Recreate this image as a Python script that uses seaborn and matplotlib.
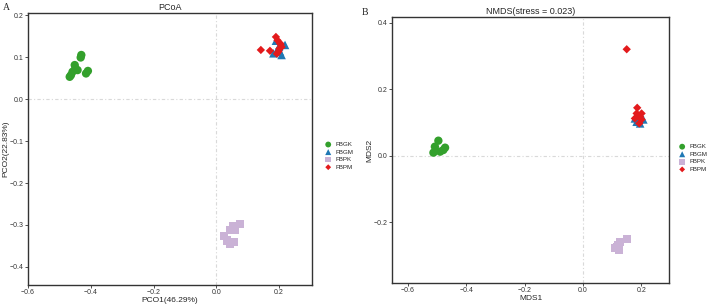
import numpy as np
import pandas as pd
import matplotlib
matplotlib.use("Agg")
import matplotlib.pyplot as plt
import seaborn as sns

sns.set_theme(style="white")
plt.rcParams['font.family'] = ['Liberation Sans', 'DejaVu Sans']

groups = ["FBGK", "FBGM", "FBPK", "FBPM"]
colors = {"FBGK": "#33A02C", "FBGM": "#1F78B4", "FBPK": "#CAB2D6", "FBPM": "#E31A1C"}
markers = {"FBGK": "o", "FBGM": "^", "FBPK": "s", "FBPM": "D"}

# PCoA coordinates
pcoa_fbgk_x = [-0.430, -0.432, -0.451, -0.449, -0.442, -0.458, -0.463, -0.467, -0.409, -0.415]
pcoa_fbgk_y = [0.105, 0.099, 0.081, 0.073, 0.069, 0.065, 0.057, 0.053, 0.067, 0.061]
pcoa_fbgm_x = [0.190, 0.219, 0.182, 0.208, 0.203, 0.196, 0.200]
pcoa_fbgm_y = [0.139, 0.129, 0.109, 0.105, 0.113, 0.120, 0.125]
pcoa_fbpk_x = [0.053, 0.076, 0.044, 0.060, 0.025, 0.034, 0.044, 0.055]
pcoa_fbpk_y = [-0.302, -0.298, -0.312, -0.312, -0.326, -0.337, -0.344, -0.340]
pcoa_fbpm_x = [0.142, 0.171, 0.190, 0.203, 0.208, 0.198, 0.201, 0.195, 0.205, 0.193]
pcoa_fbpm_y = [0.117, 0.115, 0.148, 0.133, 0.124, 0.113, 0.120, 0.140, 0.130, 0.108]

# NMDS coordinates
nmds_fbgk_x = [-0.496, -0.508, -0.473, -0.513, -0.490, -0.479]
nmds_fbgk_y = [0.046, 0.028, 0.025, 0.010, 0.013, 0.018]
nmds_fbgm_x = [0.178, 0.207, 0.196, 0.184, 0.190]
nmds_fbgm_y = [0.113, 0.110, 0.098, 0.103, 0.108]
nmds_fbpk_x = [0.150, 0.127, 0.110, 0.125, 0.116, 0.120]
nmds_fbpk_y = [-0.251, -0.258, -0.278, -0.283, -0.273, -0.268]
nmds_fbpm_x = [0.150, 0.186, 0.184, 0.201, 0.178, 0.196, 0.193, 0.201]
nmds_fbpm_y = [0.321, 0.145, 0.128, 0.128, 0.113, 0.118, 0.098, 0.110]


def make_df(xs, ys):
    rows = []
    for g, x, y in zip(groups, xs, ys):
        for a, b in zip(x, y):
            rows.append((g, a, b))
    return pd.DataFrame(rows, columns=["group", "x", "y"])


pcoa = make_df([pcoa_fbgk_x, pcoa_fbgm_x, pcoa_fbpk_x, pcoa_fbpm_x],
               [pcoa_fbgk_y, pcoa_fbgm_y, pcoa_fbpk_y, pcoa_fbpm_y])
nmds = make_df([nmds_fbgk_x, nmds_fbgm_x, nmds_fbpk_x, nmds_fbpm_x],
               [nmds_fbgk_y, nmds_fbgm_y, nmds_fbpk_y, nmds_fbpm_y])

fig = plt.figure(figsize=(7.08, 3.06), dpi=100)
axA = fig.add_axes([0.0395, 0.0686, 0.4012, 0.8889])
axB = fig.add_axes([0.5537, 0.0752, 0.3912, 0.8692])


def draw(ax, df, xlim, ylim, xticks, yticks, title, xlabel, ylabel, legend_anchor):
    ax.axvline(0, color="#d9d9d9", lw=0.8, ls=(0, (3, 2, 1, 2)), zorder=0)
    ax.axhline(0, color="#d9d9d9", lw=0.8, ls=(0, (3, 2, 1, 2)), zorder=0)
    sizes = {"FBGK": 36, "FBGM": 38, "FBPK": 34, "FBPM": 18}
    for g in groups:
        sub = df[df.group == g]
        sns.scatterplot(data=sub, x="x", y="y", ax=ax, color=colors[g],
                        marker=markers[g], s=sizes[g], edgecolor="none",
                        linewidth=0, label=g, legend=True, zorder=3)
    ax.set_xlim(*xlim)
    ax.set_ylim(*ylim)
    ax.set_xticks(xticks)
    ax.set_yticks(yticks)
    ax.set_xticklabels([f"{t:.1f}".replace("-", "\u2212") for t in xticks])
    ax.set_yticklabels([f"{t:.1f}".replace("-", "\u2212") for t in yticks])
    ax.tick_params(axis="both", labelsize=5, length=2, width=0.6, pad=1,
                   colors="#333333", direction="out", bottom=True, left=True)
    for sp in ax.spines.values():
        sp.set_color("#333333")
        sp.set_linewidth(1.0)
    ax.set_title(title, fontsize=6.5, pad=2)
    ax.set_xlabel(xlabel, fontsize=6, labelpad=0.5)
    ax.set_ylabel(ylabel, fontsize=6, labelpad=0.5)
    ax.legend(loc="center left", bbox_to_anchor=legend_anchor, frameon=False,
              fontsize=4.5, handletextpad=0.1, labelspacing=0.35,
              markerscale=0.7, borderaxespad=0, borderpad=0)
    ax.grid(False)


draw(axA, pcoa, (-0.6, 0.305), (-0.443, 0.205),
     [-0.6, -0.4, -0.2, 0.0, 0.2], [-0.4, -0.3, -0.2, -0.1, 0.0, 0.1, 0.2],
     "PCoA", "PCO1(46.29%)", "PCO2(22.83%)", (1.035, 0.475))
draw(axB, nmds, (-0.655, 0.295), (-0.382, 0.418),
     [-0.6, -0.4, -0.2, 0.0, 0.2], [-0.2, 0.0, 0.2, 0.4],
     "NMDS(stress = 0.023)", "MDS1", "MDS2", (1.025, 0.47))

fig.text(0.004, 0.99, "A", fontsize=7, family="Liberation Serif", va="top", ha="left")
fig.text(0.511, 0.975, "B", fontsize=7, family="Liberation Serif", va="top", ha="left")

fig.savefig("out.png", dpi=100)
